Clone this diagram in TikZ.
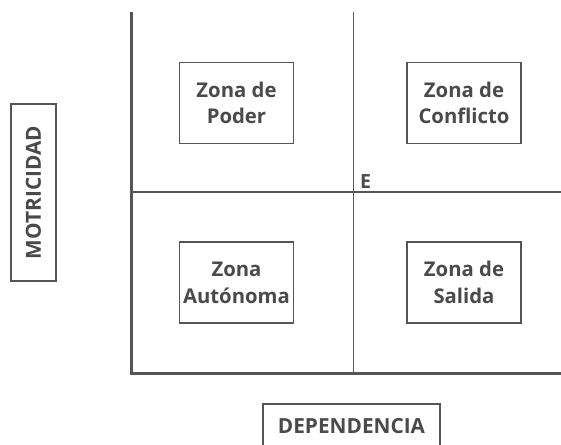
\documentclass[tikz,border=0pt]{standalone}
\usepackage{fontspec}
\setmainfont{Open Sans}
\definecolor{linegray}{HTML}{555555}
\definecolor{textgray}{HTML}{4A4A4A}
\tikzset{
  zone/.style={draw=linegray, line width=1.5pt, minimum width=114pt, minimum height=81pt,
    inner sep=0pt, align=center, text=textgray,
    font=\bfseries\fontsize{20.3}{26.7}\selectfont},
  axislabel/.style={draw=linegray, line width=1.5pt, minimum width=177pt, minimum height=45pt,
    inner sep=0pt, text=textgray, font=\bfseries\fontsize{20.8}{24}\selectfont},
  axisline/.style={draw=linegray, line width=3pt},
  midline/.style={draw=linegray, line width=1.3pt},
}
\begin{document}
\begin{tikzpicture}[x=1pt,y=-1pt]
\clip (0,0) rectangle (561,444);
\fill[white] (0,0) rectangle (561,444);
% coordinates
\coordinate (top) at (131,12);
\coordinate (origin) at (131,373);
\coordinate (right) at (561,373);
\coordinate (midtop) at (353.5,12);
\coordinate (midbot) at (353.5,373);
\coordinate (hleft) at (131,192);
\coordinate (hright) at (561,192);
% mid lines
\draw[midline] (midtop) -- (midbot);
\draw[midline] (hleft) -- (hright);
% axes
\draw[axisline] (top) -- (origin) -- (right);
% zones
\node[zone] (poder) at (236.5,103) {Zona de\\Poder};
\node[zone] (conflicto) at (464,103) {Zona de\\Conflicto};
\node[zone] (autonoma) at (236.5,282.5) {Zona\\Autónoma};
\node[zone] (salida) at (464,282.5) {Zona de\\Salida};
% E
\node[anchor=base west, inner sep=0pt, text=textgray, font=\bfseries\fontsize{19.5}{22}\selectfont] (e) at (360,188) {E};
% axis labels
\node[axislabel, rotate=90] (motricidad) at (33.5,192.5) {MOTRICIDAD};
\node[axislabel] (dependencia) at (351.5,426.5) {DEPENDENCIA};
\end{tikzpicture}
\end{document}
